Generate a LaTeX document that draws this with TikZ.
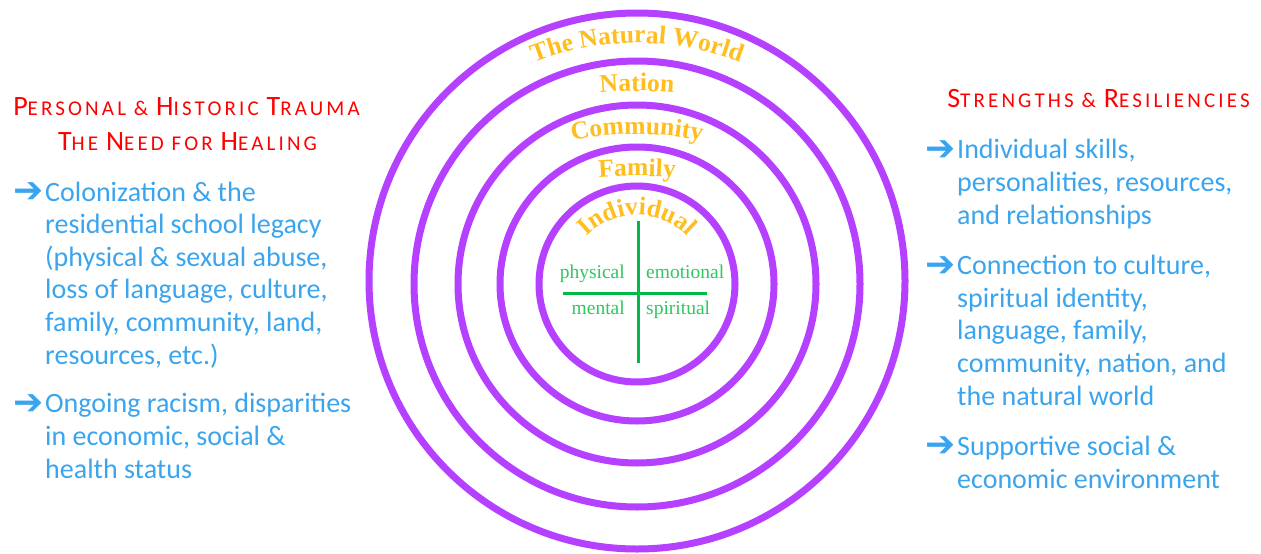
\documentclass[tikz,border=0pt]{standalone}
\usepackage{fontspec}
\setmainfont{Carlito}
\newfontfamily\headfont{Carlito}[LetterSpace=15]
\newfontfamily\serifring{Liberation Serif}
\newfontfamily\arrowfont{DejaVu Sans}
\usetikzlibrary{decorations.text}
\definecolor{ringpurple}{RGB}{182,64,255}
\definecolor{ringgold}{RGB}{255,190,30}
\definecolor{quadgreen}{RGB}{0,185,70}
\definecolor{quadtext}{RGB}{45,200,95}
\definecolor{listblue}{RGB}{58,165,238}
\definecolor{headred}{RGB}{255,0,0}
\newcommand\hcap[1]{{\fontsize{28}{28}\selectfont #1}}
\newcommand\rf{\serifring\bfseries\fontsize{25.5}{25.5}\selectfont}
\begin{document}
\begin{tikzpicture}[x=1pt,y=1pt,
  ring/.style={draw=ringpurple, line width=7pt},
  quadline/.style={draw=quadgreen, line width=3pt},
  quadlabel/.style={inner sep=0pt, text=quadtext, font=\serifring\fontsize{19.5}{19.5}\selectfont},
  headstyle/.style={inner sep=0pt, anchor=base, text=headred, font=\headfont\fontsize{21}{21}\selectfont},
  itemtext/.style={inner sep=0pt, anchor=base west, align=left, text=listblue, font=\fontsize{28}{32.6}\selectfont},
  arrowmark/.style={inner sep=0pt, anchor=base west, text=listblue, font=\arrowfont\fontsize{36}{36}\selectfont}
]
\path[fill=white] (0,0) rectangle (1261,-554);
\useasboundingbox (0,0) rectangle (1261,-554);

% rings
\draw[ring] (637,-284) circle[radius=98];
\draw[ring] (637,-284) circle[radius=137];
\draw[ring] (637,-284) circle[radius=179];
\draw[ring] (637,-284) circle[radius=223];
\draw[ring] (637,-281) circle[radius=268];

% ring labels
\path[decorate, decoration={text along path, text align=center, text color=ringgold,
  text={|\rf|The Natural World}}]
  [shift={(637,-323)}] (125:280) arc[start angle=125, end angle=55, radius=280];
\path[decorate, decoration={text along path, text align=center, text color=ringgold,
  text={|\rf|Nation}}]
  [shift={(637,-491)}] (100:400) arc[start angle=100, end angle=80, radius=400];
\path[decorate, decoration={text along path, text align=center, text color=ringgold,
  text={|\rf|Community}}]
  [shift={(637,-434)}] (110:300) arc[start angle=110, end angle=70, radius=300];
\path[decorate, decoration={text along path, text align=center, text color=ringgold,
  text={|\rf|Family}}]
  [shift={(637,-676)}] (100:500) arc[start angle=100, end angle=80, radius=500];
\path[decorate, decoration={text along path, text align=center, text color=ringgold,
  text={|\rf|Individual}}]
  [shift={(637,-285)}] (160:70) arc[start angle=160, end angle=20, radius=70];

% quadrants
\coordinate (qt) at (638,-221);
\coordinate (qb) at (638,-363);
\coordinate (ql) at (563,-293);
\coordinate (qr) at (707,-293);
\draw[quadline] (qt) -- (qb);
\draw[quadline] (ql) -- (qr);
\node[quadlabel, anchor=base east] (phys) at (625,-278) {physical};
\node[quadlabel, anchor=base west] (emo) at (646,-278) {emotional};
\node[quadlabel, anchor=base east] (ment) at (625,-314) {mental};
\node[quadlabel, anchor=base west] (spir) at (646,-314) {spiritual};

% left side
\node[headstyle] (lh1) at (186.5,-115) {\hcap{P}ERSONAL \& \hcap{H}ISTORIC \hcap{T}RAUMA};
\node[headstyle] (lh2) at (187.5,-150) {\hcap{T}HE \hcap{N}EED FOR \hcap{H}EALING};
\node[arrowmark] (la1) at (13,-202) {➔};
\node[itemtext] (li1) at (45,-364) {Colonization \& the\\residential school legacy\\(physical \& sexual abuse,\\loss of language, culture,\\family, community, land,\\resources, etc.)};
\node[arrowmark] (la2) at (13,-414) {➔};
\node[itemtext] (li2) at (45,-478) {Ongoing racism, disparities\\in economic, social \&\\health status};

% right side
\node[headstyle] (rh1) at (1098.5,-107) {\hcap{S}TRENGTHS \& \hcap{R}ESILIENCIES};
\node[arrowmark] (ra1) at (925,-160) {➔};
\node[itemtext] (ri1) at (957,-224) {Individual skills,\\personalities, resources,\\and relationships};
\node[arrowmark] (ra2) at (925,-276) {➔};
\node[itemtext] (ri2) at (957,-405) {Connection to culture,\\spiritual identity,\\language, family,\\community, nation, and\\the natural world};
\node[arrowmark] (ra3) at (925,-456) {➔};
\node[itemtext] (ri3) at (957,-488) {Supportive social \&\\economic environment};
\end{tikzpicture}
\end{document}
